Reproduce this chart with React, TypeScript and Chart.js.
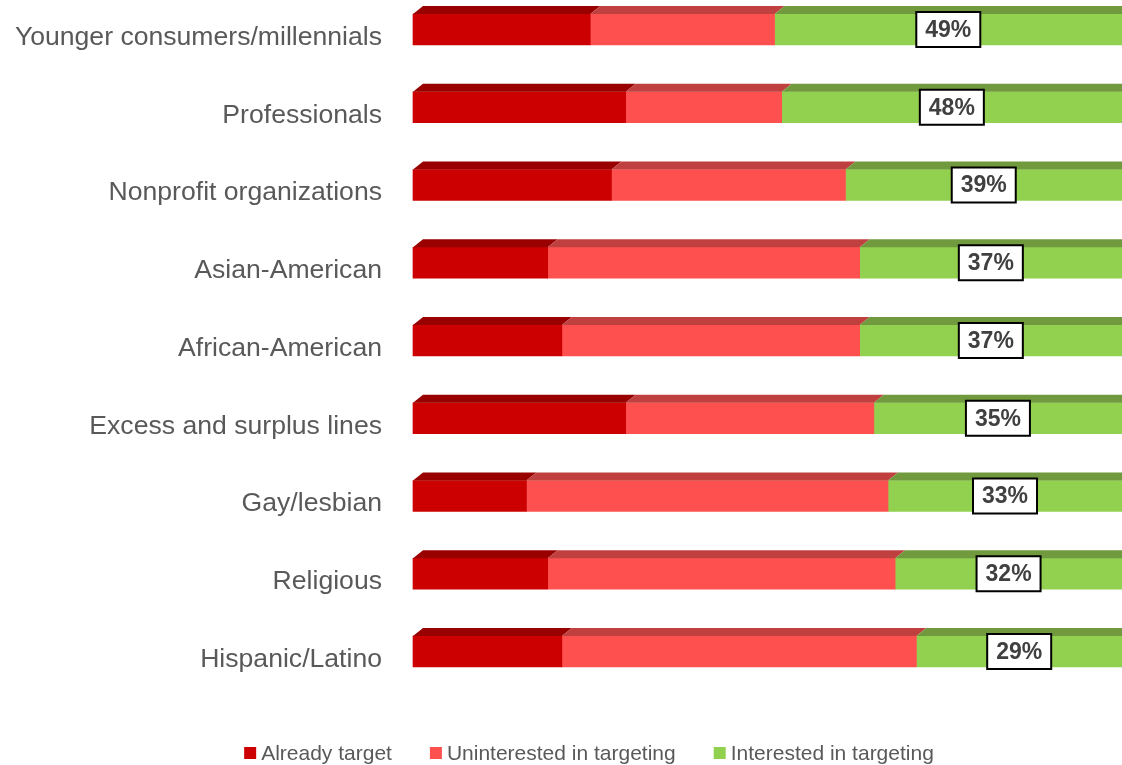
import React, { useEffect, useRef } from "react";
import { Chart, registerables } from "chart.js";

Chart.register(...registerables);

const categories = [
  "Younger consumers/millennials",
  "Professionals",
  "Nonprofit organizations",
  "Asian-American",
  "African-American",
  "Excess and surplus lines",
  "Gay/lesbian",
  "Religious",
  "Hispanic/Latino",
];
const alreadyTarget = [25, 30, 28, 19, 21, 30, 16, 19, 21];
const uninterested = [26, 22, 33, 44, 42, 35, 51, 49, 50];
const interested = [49, 48, 39, 37, 37, 35, 33, 32, 29];
const seriesNames = ["Already target", "Uninterested in targeting", "Interested in targeting"];

const frontColors = ["#CC0000", "#FF5050", "#92D050"];
const topColors = ["#990000", "#C04040", "#71993D"];
const FONT = "'Liberation Sans', Arial, Helvetica, sans-serif";

const topFacePlugin = {
  id: "topFace",
  afterDatasetsDraw(chart: any) {
    const ctx = chart.ctx;
    const dx = 10;
    const dy = 8;
    chart.data.datasets.forEach((_ds: any, di: number) => {
      const meta = chart.getDatasetMeta(di);
      meta.data.forEach((bar: any) => {
        const p = bar.getProps(["x", "y", "base", "height"], true);
        const left = Math.min(p.x, p.base);
        const right = Math.max(p.x, p.base);
        const top = p.y - p.height / 2;
        ctx.save();
        ctx.fillStyle = topColors[di];
        ctx.beginPath();
        ctx.moveTo(left, top);
        ctx.lineTo(left + dx, top - dy);
        ctx.lineTo(right + dx, top - dy);
        ctx.lineTo(right, top);
        ctx.closePath();
        ctx.fill();
        ctx.restore();
      });
    });
  },
};

const valueLabelPlugin = {
  id: "valueLabels",
  afterDatasetsDraw(chart: any) {
    const ctx = chart.ctx;
    const di = 2;
    const meta = chart.getDatasetMeta(di);
    const values = chart.data.datasets[di].data;
    ctx.save();
    ctx.font = `bold 23px ${FONT}`;
    ctx.textAlign = "center";
    ctx.textBaseline = "middle";
    meta.data.forEach((bar: any, i: number) => {
      const p = bar.getProps(["x", "y", "base"], true);
      const cx = (p.x + p.base) / 2;
      const cy = p.y;
      const w = 64;
      const h = 35;
      ctx.fillStyle = "#FFFFFF";
      ctx.fillRect(cx - w / 2, cy - h / 2, w, h);
      ctx.lineWidth = 2;
      ctx.strokeStyle = "#000000";
      ctx.strokeRect(cx - w / 2, cy - h / 2, w, h);
      ctx.fillStyle = "#404040";
      ctx.fillText(values[i] + "%", cx, cy + 1);
    });
    ctx.restore();
  },
};

const legendPlugin = {
  id: "customLegend",
  afterDraw(chart: any) {
    const ctx = chart.ctx;
    ctx.save();
    ctx.font = `21px ${FONT}`;
    ctx.textBaseline = "middle";
    const box = 12;
    const gap = 5;
    const spacing = 38;
    const items = chart.data.datasets.map((ds: any) => ({
      text: ds.label,
      color: ds.backgroundColor,
      w: ctx.measureText(ds.label).width,
    }));
    const total =
      items.reduce((s: number, it: any) => s + box + gap + it.w, 0) + spacing * (items.length - 1);
    let x = 589 - total / 2;
    const y = 753;
    items.forEach((it: any) => {
      ctx.fillStyle = it.color;
      ctx.fillRect(x, y - box / 2, box, box);
      ctx.fillStyle = "#595959";
      ctx.fillText(it.text, x + box + gap, y + 1);
      x += box + gap + it.w + spacing;
    });
    ctx.restore();
  },
};

export default function App() {
  const ref = useRef<HTMLCanvasElement | null>(null);
  useEffect(() => {
    if (!ref.current) return;
    const seriesData = [alreadyTarget, uninterested, interested];
    const chart = new Chart(ref.current, {
      type: "bar",
      data: {
        labels: categories,
        datasets: seriesNames.map((name, i) => ({
          label: name,
          data: seriesData[i],
          backgroundColor: frontColors[i],
          borderWidth: 0,
          barThickness: 31,
          clip: false as any,
        })),
      },
      options: {
        indexAxis: "y",
        responsive: false,
        animation: false,
        devicePixelRatio: 1,
        layout: { padding: { top: 29.5, bottom: 113.5, left: 0, right: 0 } },
        plugins: {
          legend: { display: false },
          tooltip: { enabled: false },
        },
        scales: {
          x: {
            stacked: true,
            min: 0,
            max: 100,
            display: false,
          },
          y: {
            stacked: true,
            offset: false,
            grid: { display: false, drawTicks: false },
            border: { display: false },
            ticks: {
              color: "#595959",
              font: { family: FONT, size: 26.6 },
              padding: 31,
              labelOffset: 8,
            },
            afterFit: (scale: any) => {
              scale.width = 413;
              scale.paddingTop = 0;
              scale.paddingBottom = 0;
            },
          },
        },
      },
      plugins: [topFacePlugin, valueLabelPlugin, legendPlugin],
    });
    return () => chart.destroy();
  }, []);
  return (
    <div style={{ position: "absolute", left: 0, top: 0, width: 1122, height: 765, background: "#fff" }}>
      <canvas ref={ref} width={1122} height={765} />
    </div>
  );
}
